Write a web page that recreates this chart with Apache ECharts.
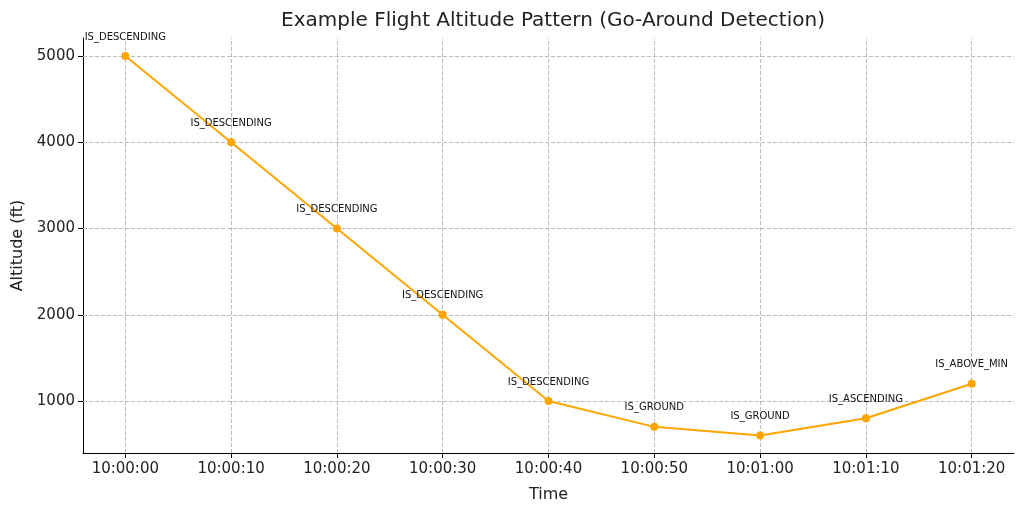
<!DOCTYPE html>
<html><head><meta charset="utf-8">
<script src="https://cdn.jsdelivr.net/npm/echarts@6/dist/echarts.min.js"></script>
<style>html,body{margin:0;background:#fff}#c{width:1024px;height:510px}</style>
</head><body><div id="c"></div>
<script>
const times = ["10:00:00","10:00:10","10:00:20","10:00:30","10:00:40","10:00:50","10:01:00","10:01:10","10:01:20"];
const seconds = [0,10,20,30,40,50,60,70,80];
const altitudes = [5000,4000,3000,2000,1000,700,600,800,1200];
const states = ["IS_DESCENDING","IS_DESCENDING","IS_DESCENDING","IS_DESCENDING","IS_DESCENDING","IS_GROUND","IS_GROUND","IS_ASCENDING","IS_ABOVE_MIN"];
const yTicks = [1000,2000,3000,4000,5000];
const font = "DejaVu Sans";
const gridLine = {type:'dashed',color:'#bbb',width:1};
const chart = echarts.init(document.getElementById('c'));
chart.setOption({
  animation:false,
  textStyle:{fontFamily:font},
  title:{text:"Example Flight Altitude Pattern (Go-Around Detection)",left:548,top:6,textAlign:'center',
    textStyle:{fontFamily:font,fontSize:20,fontWeight:'normal',color:'#222'}},
  grid:{left:83,right:10,top:38,bottom:57},
  xAxis:{type:'value',min:-4,max:84,name:'Time',nameLocation:'middle',nameGap:34,
    nameTextStyle:{fontSize:16,color:'#222'},
    axisLine:{onZero:false,lineStyle:{color:'#000'}},
    axisTick:{length:5,lineStyle:{color:'#000'},customValues:seconds},
    axisLabel:{fontSize:15,color:'#222',margin:9,customValues:seconds,
      formatter:v=>{const i=seconds.indexOf(v);return i>=0?times[i]:'';}},
    splitLine:{show:false}},
  yAxis:{type:'value',min:397,max:5209,name:'Altitude (ft)',nameLocation:'middle',nameGap:56,
    nameTextStyle:{fontSize:16,color:'#222'},
    axisLine:{show:true,onZero:false,lineStyle:{color:'#000'}},
    axisTick:{show:true,length:5,lineStyle:{color:'#000'},customValues:yTicks},
    axisLabel:{fontSize:15,color:'#222',customValues:yTicks,formatter:v=>String(v)},
    splitLine:{show:false}},
  series:[{type:'line',data:seconds.map((s,i)=>[s,altitudes[i]]),z:3,
    symbol:'circle',symbolSize:8,lineStyle:{color:'#FFA500',width:2},itemStyle:{color:'#FFA500'},
    label:{show:true,position:'top',distance:10,fontSize:10,color:'#111',formatter:p=>states[p.dataIndex]},
    markLine:{silent:true,symbol:'none',label:{show:false},lineStyle:gridLine,z:1,
      data:[...seconds.map(s=>({xAxis:s})),...yTicks.map(v=>({yAxis:v}))]}}]
});
</script></body></html>
